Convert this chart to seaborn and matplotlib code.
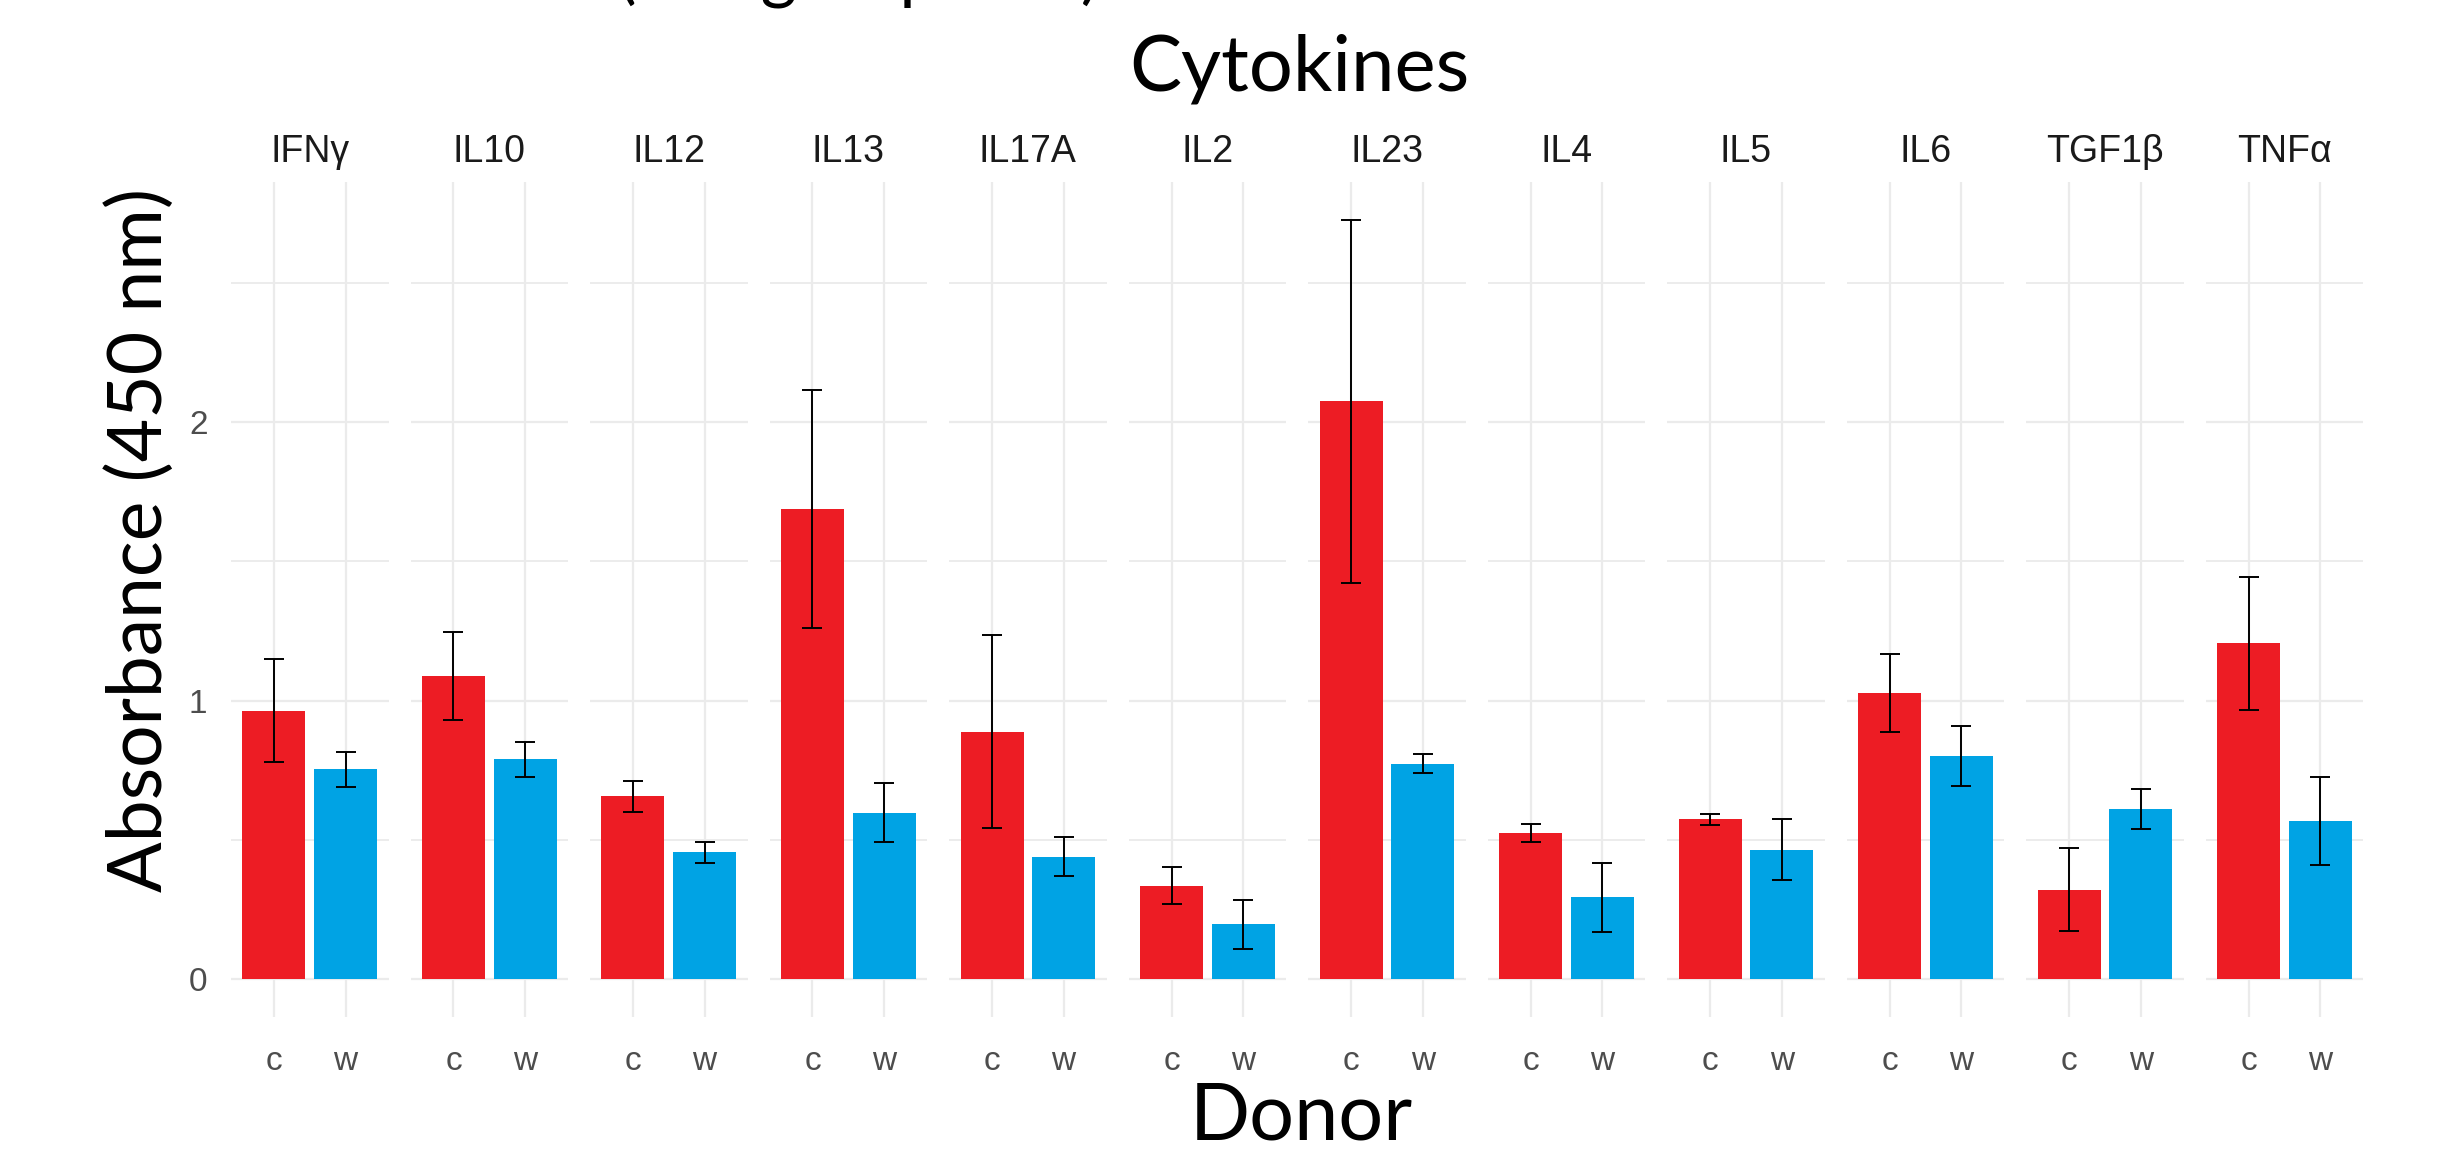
import numpy as np
import pandas as pd
import matplotlib
matplotlib.use("Agg")
import matplotlib.pyplot as plt
import seaborn as sns

# Mean absorbance and standard deviation per cytokine and donor
cytokines = ["IFNγ", "IL10", "IL12", "IL13", "IL17A", "IL2",
             "IL23", "IL4", "IL5", "IL6", "TGF1β", "TNFα"]
donors = ["c", "w"]
mean_c = [0.964, 1.088, 0.656, 1.688, 0.888, 0.335, 2.075, 0.525, 0.574, 1.027, 0.320, 1.206]
mean_w = [0.753, 0.790, 0.455, 0.597, 0.440, 0.196, 0.774, 0.293, 0.464, 0.800, 0.611, 0.568]
sd_c = [0.184, 0.157, 0.057, 0.428, 0.347, 0.066, 0.652, 0.031, 0.019, 0.140, 0.149, 0.239]
sd_w = [0.062, 0.063, 0.037, 0.106, 0.071, 0.087, 0.035, 0.124, 0.110, 0.108, 0.071, 0.157]
donor_colors = {"c": "#ED1C24", "w": "#00A3E4"}

rows = []
for i, cyt in enumerate(cytokines):
    rows.append({"cytokine": cyt, "donor": "c", "absorbance": mean_c[i], "sd": sd_c[i]})
    rows.append({"cytokine": cyt, "donor": "w", "absorbance": mean_w[i], "sd": sd_w[i]})
df = pd.DataFrame(rows)

sns.set_theme(style="white")
plt.rcParams["font.family"] = ["Liberation Sans", "DejaVu Sans"]

title_font = ["Lato", "DejaVu Sans"]
grid_col = "#EBEBEB"

# y-range with 5% padding around the data (bars + error bars)
top = float((df["absorbance"] + df["sd"]).max())
pad = 0.05 * top

fig, axes = plt.subplots(1, len(cytokines), figsize=(24.42, 11.49), dpi=100, sharey=True)
fig.subplots_adjust(left=0.0946, right=0.9677, bottom=0.1149, top=0.8416, wspace=0.1397)

for ax, cyt in zip(axes, cytokines):
    sub = df[df["cytokine"] == cyt]
    sns.barplot(data=sub, x="donor", y="absorbance", hue="donor", order=donors,
                hue_order=donors, palette=donor_colors, width=0.88, errorbar=None,
                legend=False, saturation=1, linewidth=0, ax=ax)
    ax.errorbar(np.arange(len(donors)), sub["absorbance"].to_numpy(),
                yerr=sub["sd"].to_numpy(), fmt="none", ecolor="black",
                elinewidth=1.4, capsize=7, capthick=1.4, zorder=3)
    ax.set_xlim(-0.6, len(donors) - 0.4)
    ax.set_ylim(-pad, top + pad)
    ax.set_yticks([0, 1, 2])
    ax.set_yticks([0.5, 1.5, 2.5], minor=True)
    ax.set_axisbelow(True)
    ax.grid(which="major", color=grid_col, linewidth=1.6)
    ax.grid(which="minor", axis="y", color=grid_col, linewidth=1.3)
    for s in ax.spines.values():
        s.set_visible(False)
    ax.set_xlabel("")
    ax.set_ylabel("")
    ax.tick_params(axis="both", which="both", length=0)
    ax.tick_params(axis="x", pad=21, labelsize=24, labelcolor="#4D4D4D")
    ax.tick_params(axis="y", pad=17, labelsize=24, labelcolor="#4D4D4D")
    ax.text(0.5, 1.024, cyt, transform=ax.transAxes, ha="center", va="baseline",
            fontsize=27, color="#1A1A1A")

# Heading line that runs off the top edge; only its descenders remain visible
fig.text(0.253, 1 + 5 / 1149, "(using all plates)", ha="left", va="baseline",
         fontsize=50, family=title_font, color="black")
fig.text(0.532, 1 - 90 / 1149, "Cytokines", ha="center", va="baseline",
         fontsize=56, family=title_font, color="black")
fig.text(0.533, 1 - 1140 / 1149, "Donor", ha="center", va="baseline",
         fontsize=57, family=title_font, color="black")
fig.text(0.0573, 0.530, "Absorbance (450 nm)", ha="center", va="center",
         rotation=90, fontsize=54, family=title_font, color="black")

fig.savefig("out.png", dpi=100, facecolor="white")
